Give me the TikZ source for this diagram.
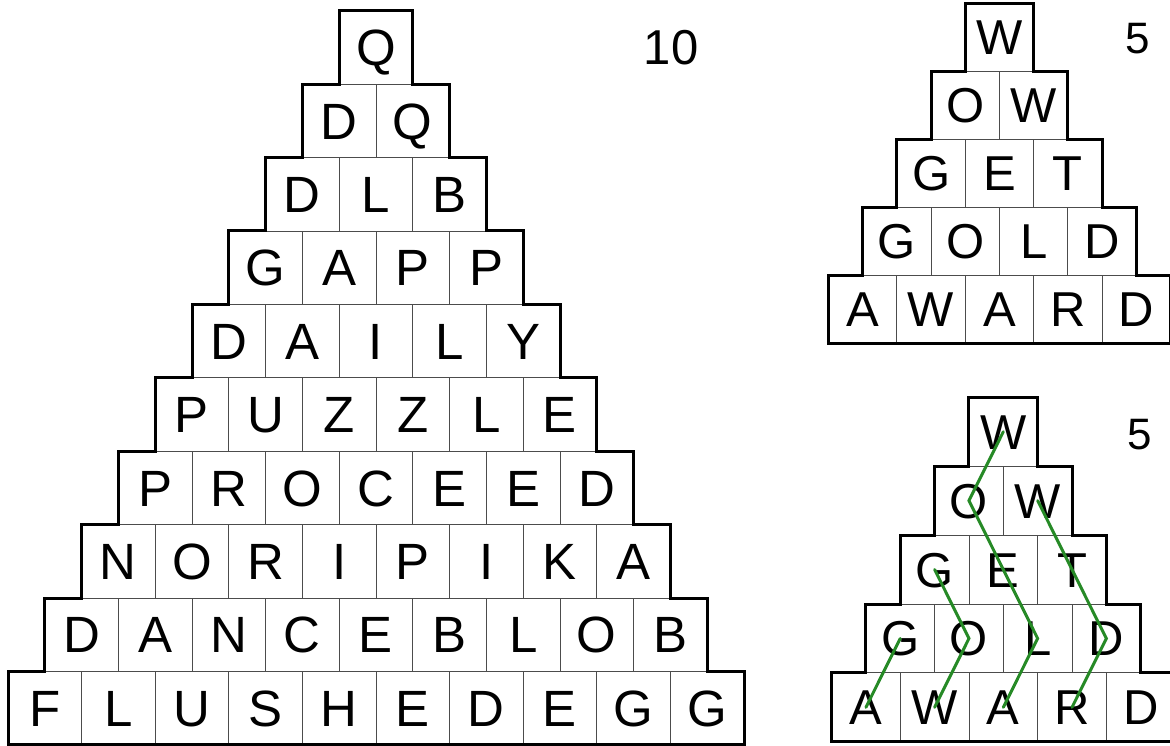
\documentclass[tikz,border=0pt]{standalone}
\usepackage{fontspec}
\setmainfont{Liberation Sans}
\tikzset{
  cell/.style={draw=black!70, line width=0.9pt, inner sep=0pt, anchor=center, text depth=0pt},
  outline/.style={draw=black, line width=3pt, line join=miter},
  gline/.style={draw={rgb,255:red,38;green,138;blue,38}, line width=3pt, line cap=round, line join=miter},
  numlabel/.style={inner sep=0pt, anchor=center, text depth=0pt}
}
% #1 prefix, #2 cx, #3 y0, #4 w, #5 h, #6 n, #7 font size, #8 rows
\newcommand\drawpyr[8]{%
  \pgfmathsetmacro\capht{0.716*#7}%
  \foreach \rw [count=\r] in {#8} {
    \foreach \ch [count=\c] in \rw {
      \pgfmathsetmacro\px{#2+(\c-(\r+1)/2)*#4}
      \pgfmathsetmacro\py{#3+(\r-0.5)*#5}
      \node[cell, minimum width=#4pt, minimum height=#5pt, text height=\capht pt,
            font=\fontsize{#7}{#7}\selectfont] (#1-\r-\c) at (\px,\py) {\ch};
    }
  }
  \draw[outline] ({#2-#4/2},#3) -- ({#2+#4/2},#3)
    \foreach \k in {1,...,#6} { -- ({#2+\k*#4/2},{#3+(\k-1)*#5}) -- ({#2+\k*#4/2},{#3+\k*#5}) }
    -- ({#2-#6*#4/2},{#3+#6*#5})
    \foreach \k in {#6,...,1} { -- ({#2-\k*#4/2},{#3+\k*#5}) -- ({#2-\k*#4/2},{#3+(\k-1)*#5}) }
    -- cycle;
}
\begin{document}
\begin{tikzpicture}[x=1pt,y=-1pt]
\useasboundingbox (0,0) rectangle (1170,746);
\drawpyr{L}{376}{10.8}{73.6}{73.4}{10}{51}{{Q},{D,Q},{D,L,B},{G,A,P,P},{D,A,I,L,Y},{P,U,Z,Z,L,E},{P,R,O,C,E,E,D},{N,O,R,I,P,I,K,A},{D,A,N,C,E,B,L,O,B},{F,L,U,S,H,E,D,E,G,G}}
\drawpyr{T}{999.5}{3.3}{68.4}{68}{5}{49}{{W},{O,W},{G,E,T},{G,O,L,D},{A,W,A,R,D}}
\drawpyr{B}{1003.3}{397.3}{68.7}{68.9}{5}{49}{{W},{O,W},{G,E,T},{G,O,L,D},{A,W,A,R,D}}
\node[numlabel, font=\fontsize{49}{49}\selectfont, text height=35pt] (n10) at (671,47.5) {10};
\node[numlabel, font=\fontsize{44}{44}\selectfont, text height=31.5pt] (n5a) at (1138,38) {5};
\node[numlabel, font=\fontsize{44}{44}\selectfont, text height=31.5pt] (n5b) at (1140,434) {5};
\draw[gline] (B-5-1.center) -- (B-4-1.center);
\draw[gline] (B-5-2.center) -- (B-4-2.center) -- (B-3-1.center);
\draw[gline] (B-1-1.center) -- (B-2-1.center) -- (B-3-2.center) -- (B-4-3.center) -- (B-5-3.center);
\draw[gline] (B-2-2.center) -- (B-3-3.center) -- (B-4-4.center) -- (B-5-4.center);
\end{tikzpicture}
\end{document}
